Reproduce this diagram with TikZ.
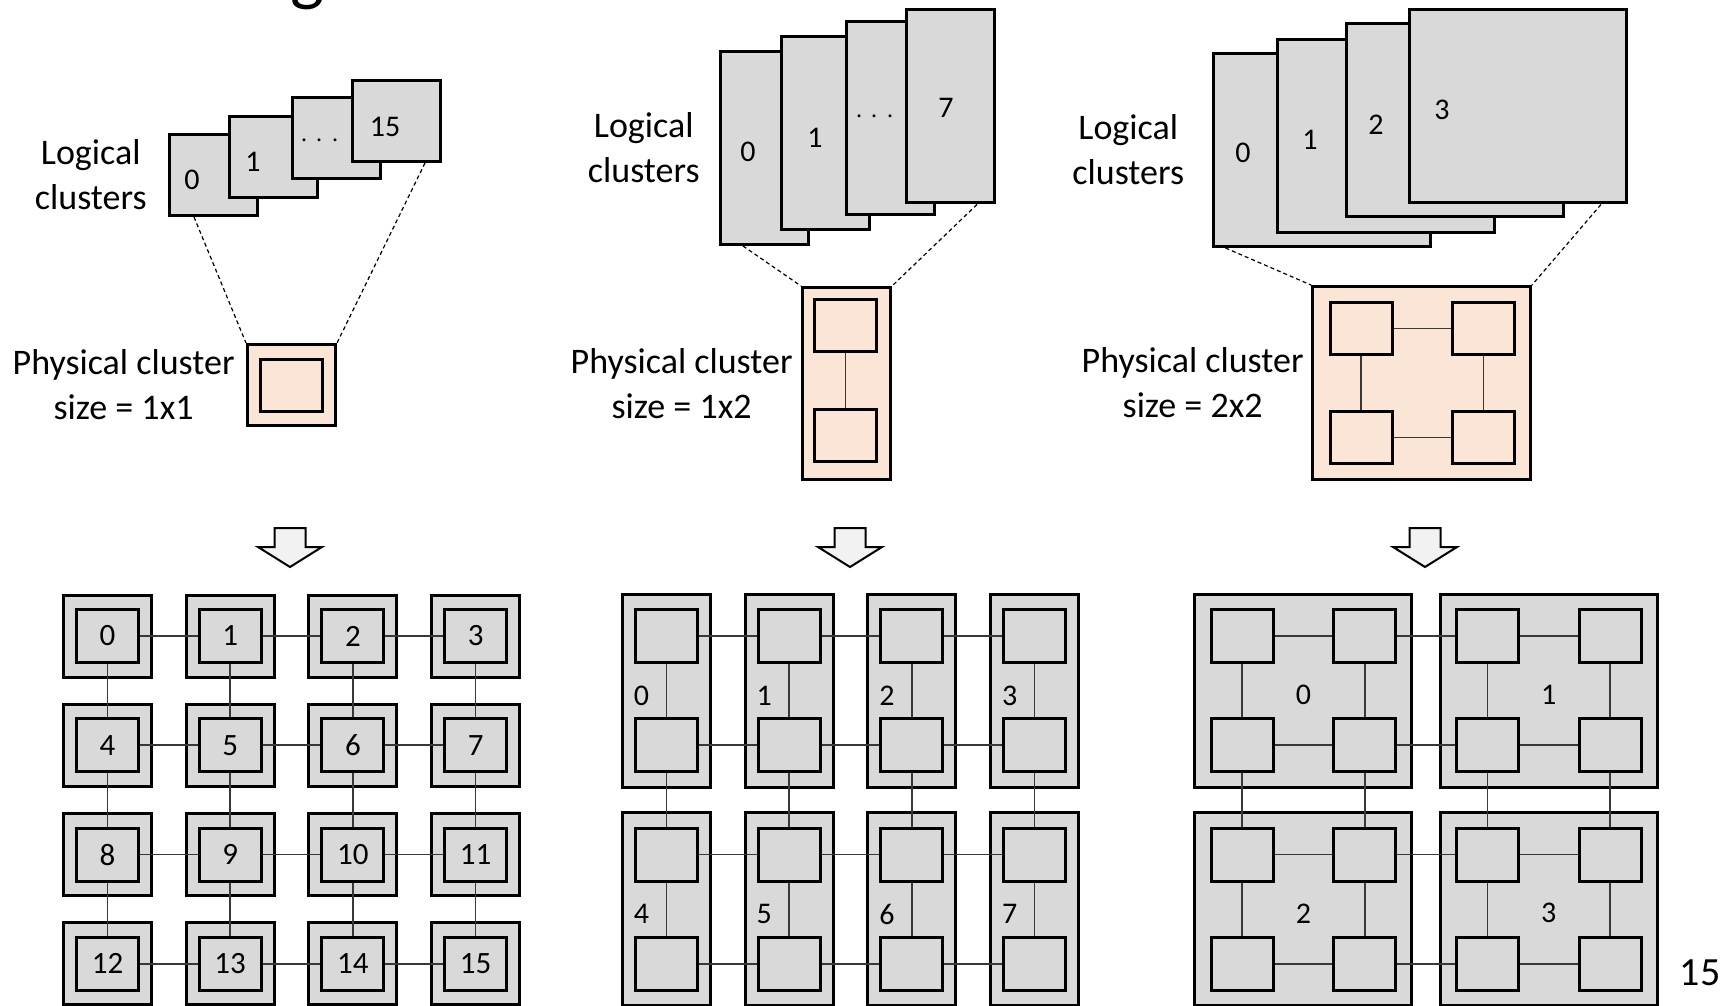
\documentclass[tikz,border=0pt]{standalone}
\usepackage{fontspec}
\setmainfont{Carlito}
\usetikzlibrary{positioning}

\definecolor{boxgray}{HTML}{D9D9D9}
\definecolor{peach}{HTML}{FBE5D6}
\definecolor{arrowgray}{HTML}{F2F2F2}
\definecolor{wire}{HTML}{383838}

\tikzset{
  logic/.style={draw, line width=1.5pt, fill=boxgray, inner sep=0pt},
  phys/.style={draw, line width=1.5pt, fill=peach, inner sep=0pt},
  pcore/.style={phys, minimum width=31pt, minimum height=26.5pt},
  tile/.style={draw, line width=1.5pt, fill=boxgray, inner sep=0pt},
  core/.style={draw, line width=1.5pt, fill=boxgray, minimum width=31pt, minimum height=26.5pt, inner sep=0pt, font=\fontsize{15.5}{18}\selectfont},
  link/.style={draw=wire, line width=0.85pt},
  proj/.style={line width=0.6pt, dash pattern=on 2pt off 1.5pt},
  caption/.style={align=center, inner sep=0pt, font=\fontsize{18}{22.5}\selectfont},
  num/.style={inner sep=0pt, font=\fontsize{15}{18}\selectfont},
  blockarrow/.style={draw, line width=1pt, fill=arrowgray, line join=miter}
}

\begin{document}
\begin{tikzpicture}[x=0.5pt,y=-0.5pt]
\useasboundingbox (0,0) rectangle (1732,1005);

% title, cut off by the top edge
\node[anchor=base, inner sep=0pt, font=\fontsize{36}{42}\selectfont] (title) at (307,-2) {g};

% ---- size 1x1
\node[logic, minimum width=44pt, minimum height=40.5pt] (a0) at (213.5,175) {};
\node[logic, minimum width=44pt, minimum height=40.5pt] (a1) at (273.5,157.5) {};
\node[logic, minimum width=44pt, minimum height=40.5pt] (a2) at (336.5,138) {};
\node[logic, minimum width=44pt, minimum height=40.5pt] (a3) at (396.5,121) {};
\node[num] (a0n) at (192,180) {0};
\node[num] (a1n) at (253,162) {1};
\node[num, anchor=base] (a2n) at (320,147.5) {$\cdotp\mkern2mu\cdotp\mkern2mu\cdotp$};
\node[num] (a3n) at (385,127) {15};
\node[caption, left=10.5pt of a0] (alog) {Logical\\clusters};

\node[phys, minimum width=44pt, minimum height=40.5pt] (p1) at (291.5,385) {};
\node[pcore, minimum height=26pt] (p1a) at (291.5,385.5) {};
\node[caption, left=5.5pt of p1] (p1txt) {Physical cluster\\size = 1x1};
\draw[proj] ([xshift=13pt]a0.south west) -- (p1.north west);
\draw[proj] ([xshift=-8.5pt]a3.south east) -- (p1.north east);

% ---- size 1x2
\node[logic, minimum width=44pt, minimum height=96.5pt] (b0) at (764.5,148) {};
\node[logic, minimum width=44pt, minimum height=96.5pt] (b1) at (825.5,133.5) {};
\node[logic, minimum width=44pt, minimum height=96.5pt] (b2) at (890.5,118.5) {};
\node[logic, minimum width=44pt, minimum height=96.5pt] (b3) at (950.5,106.5) {};
\node[num] (b0n) at (748,152) {0};
\node[num] (b1n) at (815,138) {1};
\node[num, anchor=base] (b2n) at (875,123.5) {$\cdotp\mkern2mu\cdotp\mkern2mu\cdotp$};
\node[num] (b3n) at (946,108) {7};
\node[caption, left=9.5pt of b0] (blog) {Logical\\clusters};

\node[phys, minimum width=44pt, minimum height=96pt] (p2) at (846.5,383.5) {};
\node[pcore, minimum height=26pt] (p2a) at (845.5,325.5) {};
\node[pcore, minimum height=26pt] (p2b) at (845.5,435) {};
\draw[link] (p2a) -- (p2b);
\node[caption, left=4pt of p2] (p2txt) {Physical cluster\\size = 1x2};
\draw[proj] ([xshift=12pt]b0.south west) -- (p2.north west);
\draw[proj] ([xshift=-9.5pt]b3.south east) -- (p2.north east);

% ---- size 2x2
\node[logic, minimum width=108.5pt, minimum height=96.5pt] (c0) at (1321.5,150) {};
\node[logic, minimum width=108.5pt, minimum height=96.5pt] (c1) at (1385.5,136) {};
\node[logic, minimum width=108.5pt, minimum height=96.5pt] (c2) at (1454.5,120.5) {};
\node[logic, minimum width=108.5pt, minimum height=96.5pt] (c3) at (1518,106.5) {};
\node[num] (c0n) at (1243,153) {0};
\node[num] (c1n) at (1310,140) {1};
\node[num] (c2n) at (1376,125) {2};
\node[num] (c3n) at (1442,110) {3};
\node[caption, left=13.5pt of c0] (clog) {Logical\\clusters};

\node[phys, minimum width=109pt, minimum height=96.5pt] (p4) at (1421.5,383) {};
\node[pcore, minimum height=26pt] (p4a) at (1361,328.5) {};
\node[pcore, minimum height=26pt] (p4b) at (1483.5,328.5) {};
\node[pcore, minimum height=26pt] (p4c) at (1361,437.5) {};
\node[pcore, minimum height=26pt] (p4d) at (1483.5,437.5) {};
\draw[link] (p4a) -- (p4b);
\draw[link] (p4c) -- (p4d);
\draw[link] (p4a) -- (p4c);
\draw[link] (p4b) -- (p4d);
\node[caption, left=3.5pt of p4] (p4txt) {Physical cluster\\size = 2x2};
\draw[proj] ([xshift=7pt]c0.south west) -- (p4.north west);
\draw[proj] ([xshift=-13.5pt]c3.south east) -- (p4.north east);

% ---- mapping arrows
\foreach \cx in {290,850,1425}
  \draw[blockarrow] ({\cx-15.5},528) -- ({\cx+15.5},528) -- ({\cx+15.5},547)
    -- ({\cx+32},547) -- (\cx,567) -- ({\cx-32},547) -- ({\cx-15.5},547) -- cycle;

% ---- mesh of 1x1 clusters
\foreach \j in {0,...,3} {
  \foreach \i in {0,...,3} {
    \pgfmathtruncatemacro\n{4*\j+\i}
    \node[tile, minimum width=44pt, minimum height=41pt] (t1-\i-\j) at ({107.5+122.7*\i},{636+109.3*\j}) {};
    \node[core] (m1-\i-\j) at (t1-\i-\j) {\n};
  }
}

% ---- mesh of 1x2 clusters
\foreach \j in {0,1} {
  \foreach \i in {0,...,3} {
    \pgfmathtruncatemacro\n{4*\j+\i}
    \node[tile, minimum width=44pt, minimum height=96.5pt] (t2-\i-\j) at ({666.5+122.7*\i},{690.7+218.6*\j}) {};
    \node[num] (t2-\i-\j-n) at ({641.5+122.7*\i},{695.5+218.6*\j}) {\n};
  }
}
\foreach \j in {0,...,3} {
  \foreach \i in {0,...,3} {
    \node[core] (m2-\i-\j) at ({666.5+122.7*\i},{636+109.3*\j}) {};
  }
}

% ---- mesh of 2x2 clusters
\foreach \j in {0,1} {
  \foreach \i in {0,1} {
    \pgfmathtruncatemacro\n{2*\j+\i}
    \node[tile, minimum width=108.5pt, minimum height=96.5pt] (t4-\i-\j) at ({1303.4+245.4*\i},{690.7+218.6*\j}) {};
    \node[num] (t4-\i-\j-n) at ({1303.4+245.4*\i},{694.7+218.6*\j}) {\n};
  }
}
\foreach \j in {0,...,3} {
  \foreach \i in {0,...,3} {
    \node[core] (m4-\i-\j) at ({1242+122.7*\i},{636+109.3*\j}) {};
  }
}

% ---- links
\foreach \g in {m1,m2,m4} {
  \foreach \j in {0,...,3} {
    \foreach \i in {0,1,2} {
      \pgfmathtruncatemacro\k{\i+1}
      \draw[link] (\g-\i-\j) -- (\g-\k-\j);
      \draw[link] (\g-\j-\i) -- (\g-\j-\k);
    }
  }
}

\node[inner sep=0pt, font=\fontsize{20}{24}\selectfont] (page) at (1700,973) {15};
\end{tikzpicture}
\end{document}
